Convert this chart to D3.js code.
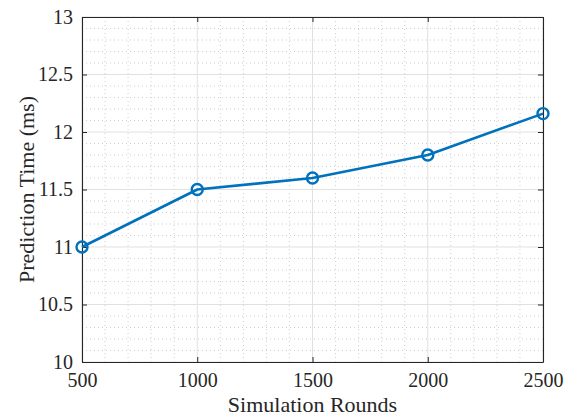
<!DOCTYPE html>
<html>
<head>
<meta charset="utf-8">
<script src="https://cdn.jsdelivr.net/npm/d3@7"></script>
<style>
  html, body { margin: 0; padding: 0; background: #fff; }
  svg { display: block; }
  svg text { font-family: "Liberation Serif", "Times New Roman", serif; }
</style>
</head>
<body>
<svg id="chart" width="571" height="418"></svg>
<script>
// Prediction time versus number of simulation rounds
const rounds = [500, 1000, 1500, 2000, 2500];
const predictionTime = [11.0, 11.5, 11.6, 11.8, 12.16];
const xTicks = [500, 1000, 1500, 2000, 2500];
const yTicks = [10, 10.5, 11, 11.5, 12, 12.5, 13];
const xLabel = "Simulation Rounds";
const yLabel = "Prediction Time (ms)";

const W = 571, H = 418;
const m = { left: 82, right: 28, top: 17, bottom: 56 };
const svg = d3.select("#chart");
const serif = "'Liberation Serif', 'Times New Roman', serif";

const x = d3.scaleLinear().domain([500, 2500]).range([m.left, W - m.right]);
const y = d3.scaleLinear().domain([10, 13]).range([H - m.bottom, m.top]);

const axisColor = "#262626";
const g = svg.append("g");

// minor grid (dotted)
const xMinor = d3.range(500, 2501, 100).filter(v => v % 500 !== 0);
const yMinor = d3.range(100, 131, 1).map(v => v / 10).filter(v => Math.round(v * 10) % 5 !== 0);
g.selectAll(".xminor").data(xMinor).join("line")
  .attr("x1", d => x(d)).attr("x2", d => x(d))
  .attr("y1", y(10)).attr("y2", y(13))
  .attr("stroke", "#c4c4c4").attr("stroke-width", 0.8).attr("stroke-dasharray", "1,3");
g.selectAll(".yminor").data(yMinor).join("line")
  .attr("x1", x(500)).attr("x2", x(2500))
  .attr("y1", d => y(d)).attr("y2", d => y(d))
  .attr("stroke", "#c4c4c4").attr("stroke-width", 0.8).attr("stroke-dasharray", "1,3");

// major grid (solid)
g.selectAll(".xmajor").data(xTicks).join("line")
  .attr("x1", d => x(d)).attr("x2", d => x(d))
  .attr("y1", y(10)).attr("y2", y(13))
  .attr("stroke", "#e1e1e1").attr("stroke-width", 1);
g.selectAll(".ymajor").data(yTicks).join("line")
  .attr("x1", x(500)).attr("x2", x(2500))
  .attr("y1", d => y(d)).attr("y2", d => y(d))
  .attr("stroke", "#e1e1e1").attr("stroke-width", 1);

// axes with inward ticks
const bottomAxis = d3.axisBottom(x).tickValues(xTicks).tickFormat(d3.format("d"))
  .tickSizeInner(-5).tickSizeOuter(0).tickPadding(11);
const leftAxis = d3.axisLeft(y).tickValues(yTicks).tickFormat(d => String(d))
  .tickSizeInner(-5).tickSizeOuter(0).tickPadding(9);
const topAxis = d3.axisTop(x).tickValues(xTicks).tickSizeInner(-5).tickSizeOuter(0).tickFormat("");
const rightAxis = d3.axisRight(y).tickValues(yTicks).tickSizeInner(-5).tickSizeOuter(0).tickFormat("");

function style(sel) {
  sel.attr("font-family", serif).attr("font-size", 20);
  sel.select(".domain").attr("stroke", axisColor).attr("stroke-width", 1.1);
  sel.selectAll(".tick line").attr("stroke", axisColor).attr("stroke-width", 1);
  sel.selectAll(".tick text").attr("fill", axisColor);
}
svg.append("g").attr("transform", `translate(0,${y(10)})`).call(bottomAxis).call(style);
svg.append("g").attr("transform", `translate(${x(500)},0)`).call(leftAxis).call(style);
svg.append("g").attr("transform", `translate(0,${y(13)})`).call(topAxis).call(style);
svg.append("g").attr("transform", `translate(${x(2500)},0)`).call(rightAxis).call(style);

// data line and circle markers
const color = "#0072BD";
const pts = rounds.map((r, i) => [r, predictionTime[i]]);
svg.append("path")
  .datum(pts)
  .attr("fill", "none")
  .attr("stroke", color)
  .attr("stroke-width", 2.6)
  .attr("stroke-linejoin", "round")
  .attr("d", d3.line().x(d => x(d[0])).y(d => y(d[1])));
svg.selectAll(".marker").data(pts).join("circle")
  .attr("cx", d => x(d[0])).attr("cy", d => y(d[1]))
  .attr("r", 5.5)
  .attr("fill", "none")
  .attr("stroke", color)
  .attr("stroke-width", 2.4);

// axis titles
svg.append("text")
  .attr("x", (x(500) + x(2500)) / 2).attr("y", 412)
  .attr("text-anchor", "middle")
  .attr("fill", axisColor)
  .attr("font-family", serif)
  .attr("font-size", 22)
  .text(xLabel);
svg.append("text")
  .attr("transform", `translate(34,${(y(10) + y(13)) / 2}) rotate(-90)`)
  .attr("text-anchor", "middle")
  .attr("fill", axisColor)
  .attr("font-family", serif)
  .attr("font-size", 22)
  .text(yLabel);
</script>
</body>
</html>
